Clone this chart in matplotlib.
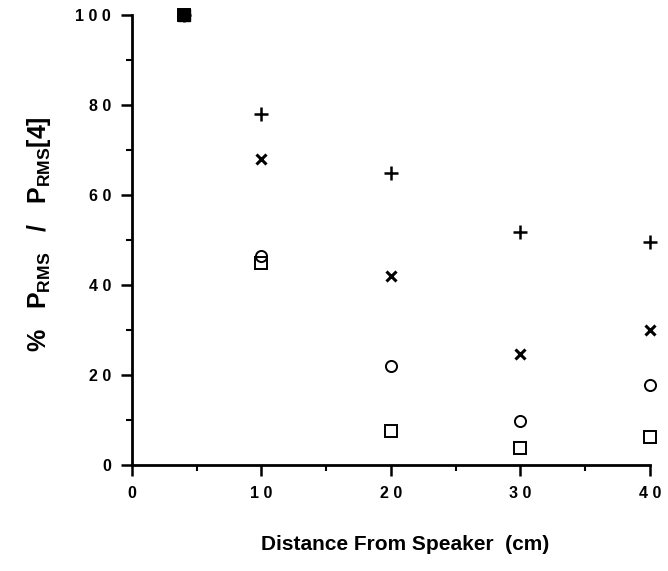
import matplotlib.pyplot as plt
from matplotlib.ticker import MultipleLocator, FuncFormatter

plt.rcParams['font.family'] = ['Liberation Sans', 'DejaVu Sans']
plt.rcParams['mathtext.fontset'] = 'custom'
plt.rcParams['mathtext.rm'] = 'Liberation Sans:bold'

# distance from speaker (cm)
dist = [4, 10, 20, 30, 40]
# % Prms / Prms[4] for the four series
plus_vals = [100, 78, 65, 51.7, 49.5]
cross_vals = [100, 68, 42, 24.7, 30]
circle_vals = [100, 46.5, 22, 9.8, 17.8]
square_vals = [100, 45, 7.5, 3.7, 6.3]

fig = plt.figure(figsize=(6.68, 5.71), dpi=100)
ax = fig.add_axes([0.1976, 0.1856, 0.7754, 0.788])

ax.plot(dist, plus_vals, ls='none', marker='+', ms=10, mew=1.8, color='black', clip_on=False)
ax.plot(dist, cross_vals, ls='none', marker='x', ms=6.5, mew=2.2, color='black', clip_on=False)
ax.plot(dist, circle_vals, ls='none', marker='o', ms=8, mew=1.4, mfc='none', color='black', clip_on=False)
ax.plot(dist, square_vals, ls='none', marker='s', ms=8, mew=1.4, mfc='none', color='black', clip_on=False)
# the overlapping points at 4 cm show as a solid square
ax.plot(dist[:1], square_vals[:1], ls='none', marker='s', ms=8.5, color='black', clip_on=False)

ax.set_xlim(0, 40)
ax.set_ylim(0, 100)
ax.xaxis.set_major_locator(MultipleLocator(10))
ax.xaxis.set_minor_locator(MultipleLocator(5))
ax.yaxis.set_major_locator(MultipleLocator(20))
ax.yaxis.set_minor_locator(MultipleLocator(10))

spaced = FuncFormatter(lambda v, p: ' '.join(str(int(v))))
ax.xaxis.set_major_formatter(spaced)
ax.yaxis.set_major_formatter(spaced)

for s in ['top', 'right']:
    ax.spines[s].set_visible(False)
for s in ['left', 'bottom']:
    ax.spines[s].set_linewidth(2)

ax.tick_params(which='major', direction='out', length=8, width=1.8, labelsize=11.5, pad=7)
ax.tick_params(which='minor', direction='out', length=4, width=1.5)
for lab in ax.get_xticklabels() + ax.get_yticklabels():
    lab.set_fontweight('bold')

ax.set_xlabel('Distance From Speaker  (cm)', fontsize=15, fontweight='bold')
ax.xaxis.set_label_coords(0.527, -0.156)
ax.set_ylabel(r'%   P$_{\mathrm{RMS}}$   /   P$_{\mathrm{RMS}}$[4]', fontsize=18, fontweight='bold')
ax.yaxis.set_label_coords(-0.152, 0.513)

fig.savefig('out.png', dpi=100)
